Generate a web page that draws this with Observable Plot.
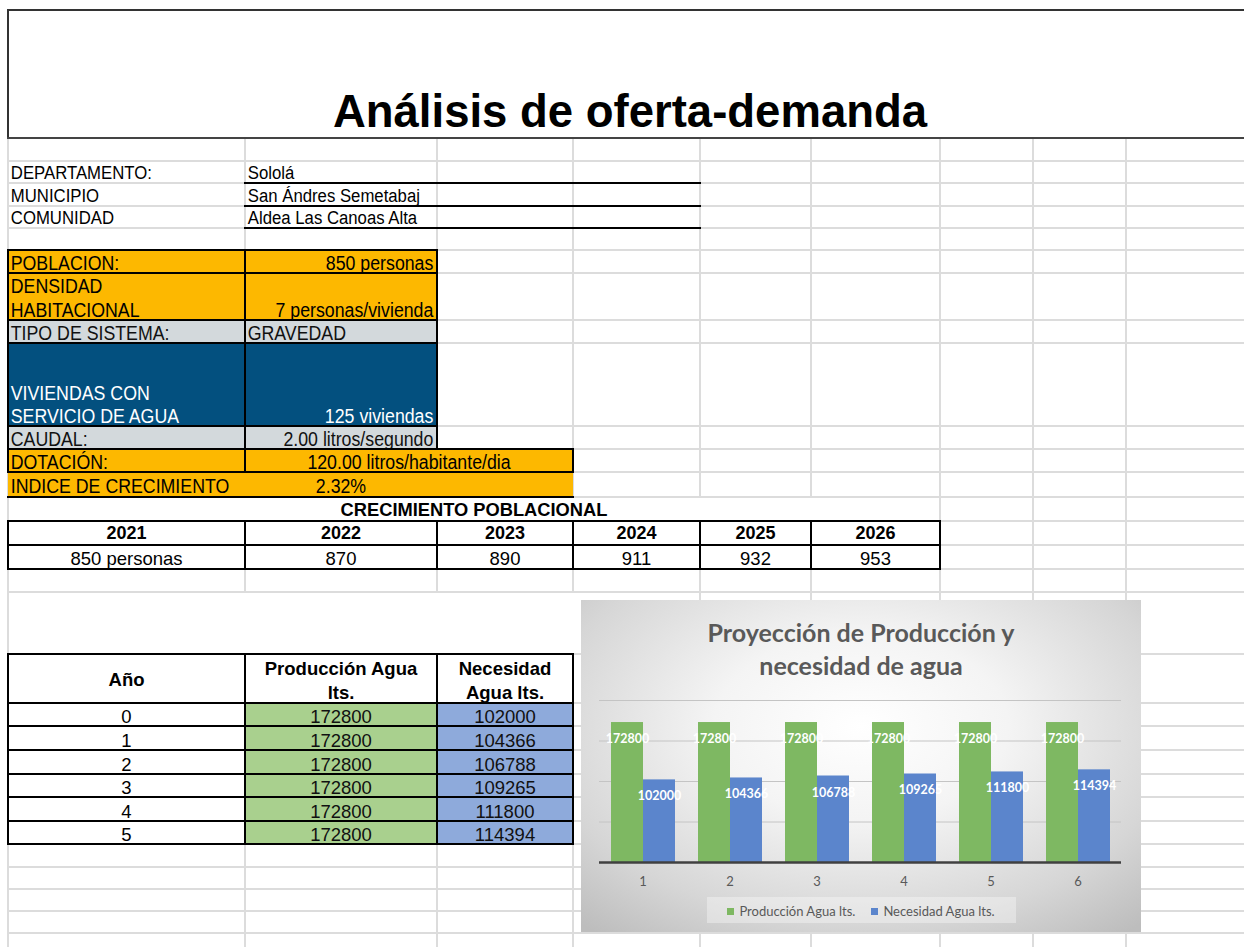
<!DOCTYPE html>
<html>
<head>
<meta charset="utf-8">
<script src="https://cdn.jsdelivr.net/npm/d3@7"></script>
<script src="https://cdn.jsdelivr.net/npm/@observablehq/plot@0.6"></script>
<style>
  html, body { margin: 0; padding: 0; background: #fff; }
  body { width: 1244px; height: 947px; overflow: hidden; position: relative; font-family: "Liberation Sans", Arial, sans-serif; }
  #sheet { position: absolute; left: 0; top: 0; width: 1244px; height: 947px; }
  .abs { position: absolute; box-sizing: border-box; }
  #chart { position: absolute; left: 581px; top: 600px; width: 560px; height: 332px;
    background: radial-gradient(ellipse 75% 80% at 50% 38%, #ffffff 0%, #f4f4f4 35%, #d6d6d6 75%, #bdbdbd 100%);
    font-family: Lato, "Open Sans", sans-serif; }
  #chartTitle { position: absolute; left: 0; top: 16px; width: 560px; text-align: center; font-weight: 700; font-size: 25px; line-height: 33px; color: #595959; }
  #plotWrap { position: absolute; left: 0; top: 90px; }
  #legendBox { position: absolute; left: 126px; top: 297px; width: 309px; height: 26px; background: rgba(255,255,255,0.35); }
  #legend { position: absolute; left: 0; top: 303px; width: 560px; display: flex; justify-content: center; align-items: center; font-size: 13px; line-height: 16px; color: #595959; }
  .sw { display: inline-block; width: 7px; height: 7px; margin-right: 5px; }
  .item { display: flex; align-items: center; margin: 0 8px; }
</style>
</head>
<body>
<div id="sheet"></div>
<div id="chart">
  <div id="chartTitle"></div>
  <div id="plotWrap"></div>
  <div id="legendBox"></div>
  <div id="legend"></div>
</div>
<script>
// ---------------- data ----------------
const sheetTitle = "Análisis de oferta-demanda";
const infoLabels = ["DEPARTAMENTO:", "MUNICIPIO", "COMUNIDAD"];
const infoValues = ["Sololá", "San Ándres Semetabaj", "Aldea Las Canoas Alta"];
const paramLabels = ["POBLACION:", "DENSIDAD\nHABITACIONAL", "TIPO DE SISTEMA:", "VIVIENDAS CON\nSERVICIO DE AGUA", "CAUDAL:", "DOTACIÓN:", "INDICE DE CRECIMIENTO"];
const paramValues = ["850 personas", "7 personas/vivienda", "GRAVEDAD", "125 viviendas", "2.00 litros/segundo", "120.00 litros/habitante/dia", "2.32%"];
const growthTitle = "CRECIMIENTO POBLACIONAL";
const growthYears = ["2021", "2022", "2023", "2024", "2025", "2026"];
const growthPop = ["850 personas", "870", "890", "911", "932", "953"];
const tableHeaders = ["Año", "Producción Agua\nlts.", "Necesidad\nAgua lts."];
const years = [0, 1, 2, 3, 4, 5];
const produccion = [172800, 172800, 172800, 172800, 172800, 172800];
const necesidad = [102000, 104366, 106788, 109265, 111800, 114394];
const categories = ["1", "2", "3", "4", "5", "6"];
const seriesNames = ["Producción Agua lts.", "Necesidad Agua lts."];
const chartTitle = ["Proyección de Producción y", "necesidad de agua"];

// ---------------- sheet layout ----------------
const colX = [8, 245, 437, 573, 700, 811, 940, 1033, 1126];
const rowY = [138, 161, 183, 206, 228, 250, 273, 320, 343, 426, 449, 472, 497, 521, 545, 569, 592, 654, 703, 726, 750, 774, 797, 821, 844, 867, 889, 911, 933, 956];
const ORANGE = "#FDB800", GRAY = "#D3D9DC", NAVY = "#03507F", GREEN = "#A9D08E", BLUE = "#8EAADB";

const sheet = document.getElementById("sheet");
const borders = [];
function box(x, y, w, h, css, parent) {
  const d = document.createElement("div");
  d.className = "abs";
  Object.assign(d.style, { left: x + "px", top: y + "px", width: w + "px", height: h + "px" }, css || {});
  (parent || sheet).appendChild(d);
  return d;
}
function line(x1, y1, x2, y2, color) { borders.push([x1, y1, x2, y2, color || "#000"]); }
// text placed so that the last baseline sits `base` px above the cell bottom
function cell(x1, x2, y1, y2, o = {}) {
  const d = box(x1, y1, x2 - x1, y2 - y1, { background: o.bg || "transparent" });
  if (o.text != null) {
    const f = o.size || 18, L = o.lh || 20, s = o.sx || 1, base = o.base ?? 3.5;
    const bottom = base - ((L + 1.117 * f) / 2 - 0.905 * f);
    const align = o.align || "left";
    const t = document.createElement("div");
    t.textContent = o.text;
    Object.assign(t.style, {
      position: "absolute", left: "0px", right: "0px", bottom: bottom + "px",
      textAlign: align, padding: `0 ${o.padR ?? 3}px 0 ${o.padL ?? 3}px`,
      fontSize: f + "px", lineHeight: L + "px",
      fontWeight: o.bold ? "bold" : "normal", color: o.color || "#000", whiteSpace: "pre",
      transform: `scaleX(${s})`, transformOrigin: align === "left" ? "left" : align === "right" ? "right" : "center"
    });
    d.appendChild(t);
  }
  if (o.border) {
    line(x1, y1, x2, y1); line(x1, y2, x2, y2); line(x1, y1, x1, y2); line(x2, y1, x2, y2);
  }
}

// light grid
rowY.forEach(y => box(8, y - 1, 1244 - 8, 2, { background: "#DCDCDC" }));
colX.forEach(x => box(x - 1, 138, 2, 947 - 138, { background: "#DCDCDC" }));

// title block (merged)
box(9, 10, 1244, 128, { background: "#fff" });
line(8, 10, 1250, 10, "#333"); line(8, 10, 8, 138, "#333"); line(8, 138, 1250, 138, "#444");
const t = box(8, 87, 1244, 50, { textAlign: "center", fontWeight: "bold", fontSize: "45.5px", lineHeight: "50px", color: "#000" });
t.textContent = sheetTitle;

// info rows
const INFO = { size: 18, sx: 0.93, base: 3.7 };
infoLabels.forEach((lab, i) => {
  const y1 = rowY[1 + i], y2 = rowY[2 + i];
  cell(colX[0], colX[1], y1, y2, { ...INFO, text: lab });
  cell(colX[1], colX[2], y1, y2, { ...INFO, text: infoValues[i] });
  line(colX[1], y2, colX[4], y2);
});

// parameter block
const P = { size: 19.5, sx: 0.91, base: 3 };
const pStyles = [
  { bg: ORANGE, align: "right" },
  { bg: ORANGE, align: "right", lh: 24 },
  { bg: GRAY, align: "left", color: "#111" },
  { bg: NAVY, align: "right", color: "#fff", lh: 23 },
  { bg: GRAY, align: "right", color: "#111" }
];
pStyles.forEach((st, i) => {
  const y1 = rowY[5 + i], y2 = rowY[6 + i];
  cell(colX[0], colX[1], y1, y2, { ...P, bg: st.bg, text: paramLabels[i], border: true, color: st.color, lh: st.lh });
  cell(colX[1], colX[2], y1, y2, { ...P, bg: st.bg, text: paramValues[i], border: true, align: st.align, color: st.color, padR: 4 });
});
// DOTACIÓN
cell(colX[0], colX[1], rowY[10], rowY[11], { ...P, bg: ORANGE, text: paramLabels[5], border: true });
cell(colX[1], colX[3], rowY[10], rowY[11], { ...P, bg: ORANGE, text: paramValues[5], border: true, align: "center" });
// INDICE
cell(colX[0], colX[3], rowY[11], rowY[12], { ...P, bg: ORANGE, text: paramLabels[6], base: 4 });
cell(colX[1], colX[2], rowY[11], rowY[12], { ...P, text: paramValues[6], align: "center", base: 4 });
line(colX[0], rowY[12], colX[3], rowY[12]);

// growth table
const TB = { size: 18.5, lh: 21 };
box(9, rowY[12] + 1, colX[6] - 10, rowY[13] - rowY[12] - 2, { background: "#fff" });
cell(colX[0], colX[6], rowY[12], rowY[13], { ...TB, size: 18.3, text: growthTitle, align: "center", bold: true, base: 5 });
growthYears.forEach((yr, i) => {
  cell(colX[i], colX[i + 1], rowY[13], rowY[14], { ...TB, size: 18, text: yr, align: "center", bold: true, border: true, bg: "#fff", base: 5 });
  cell(colX[i], colX[i + 1], rowY[14], rowY[15], { ...TB, text: growthPop[i], align: "center", border: true, bg: "#fff", base: 4 });
});

// merged tall row above the water table
box(9, rowY[16] + 1, colX[3] - 6, rowY[17] - rowY[16] - 2, { background: "#fff" });

// water table
cell(colX[0], colX[1], rowY[17], rowY[18], { ...TB, text: tableHeaders[0], align: "center", bold: true, border: true, bg: "#fff", base: 17 });
cell(colX[1], colX[2], rowY[17], rowY[18], { ...TB, lh: 24, text: tableHeaders[1], align: "center", bold: true, border: true, bg: "#fff", base: 4 });
cell(colX[2], colX[3], rowY[17], rowY[18], { ...TB, lh: 24, text: tableHeaders[2], align: "center", bold: true, border: true, bg: "#fff", base: 4 });
years.forEach((yr, i) => {
  const y1 = rowY[18 + i], y2 = rowY[19 + i];
  cell(colX[0], colX[1], y1, y2, { ...TB, text: String(yr), align: "center", border: true, bg: "#fff", base: 3 });
  cell(colX[1], colX[2], y1, y2, { ...TB, text: String(produccion[i]), align: "center", border: true, bg: GREEN, color: "#111", base: 3 });
  cell(colX[2], colX[3], y1, y2, { ...TB, text: String(necesidad[i]), align: "center", border: true, bg: BLUE, color: "#111", base: 3 });
});

// draw black borders last
borders.forEach(([x1, y1, x2, y2, c]) => {
  if (y1 === y2) box(x1 - 1, y1 - 1, x2 - x1 + 2, 2, { background: c });
  else box(x1 - 1, y1 - 1, 2, y2 - y1 + 2, { background: c });
});

// ---------------- chart ----------------
document.getElementById("chartTitle").innerHTML = chartTitle.join("<br>");
const colors = ["#7EB862", "#5B85CC"];
const legend = document.getElementById("legend");
seriesNames.forEach((s, i) => {
  const it = document.createElement("div");
  it.className = "item";
  it.innerHTML = `<span class="sw" style="background:${colors[i]}"></span><span>${s}</span>`;
  legend.appendChild(it);
});

const rows = categories.flatMap((c, i) => [
  { cat: c, series: seriesNames[0], value: produccion[i] },
  { cat: c, series: seriesNames[1], value: necesidad[i] }
]);
const gridValues = [50000, 100000, 150000, 200000];

const plot = Plot.plot({
  width: 560,
  height: 205,
  marginTop: 10,
  marginBottom: 33,
  marginLeft: 17,
  marginRight: 19,
  style: { background: "transparent", fontFamily: "Lato, 'Open Sans', sans-serif", fontSize: "13px", color: "#595959", overflow: "visible" },
  facet: { data: rows, x: "cat" },
  fx: { domain: categories, padding: 0, label: null, axis: "bottom", tickSize: 0, tickPadding: 14 },
  x: { domain: seriesNames, paddingInner: 0, paddingOuter: 1 / 3, axis: null },
  y: { domain: [0, 200000], axis: null },
  color: { domain: seriesNames, range: colors },
  marks: [
    Plot.ruleY(gridValues, { stroke: "#C4C4C4", strokeWidth: 1 }),
    Plot.barY(rows, { x: "series", y: "value", fill: "series" }),
    Plot.text(rows, { x: "series", y: "value", text: d => String(d.value), dy: 16.5, fill: "white", fontWeight: "bold", fontSize: 12.5 }),
    Plot.ruleY([0], { stroke: "#404040", strokeWidth: 2.5 })
  ]
});
document.getElementById("plotWrap").appendChild(plot);
</script>
</body>
</html>
